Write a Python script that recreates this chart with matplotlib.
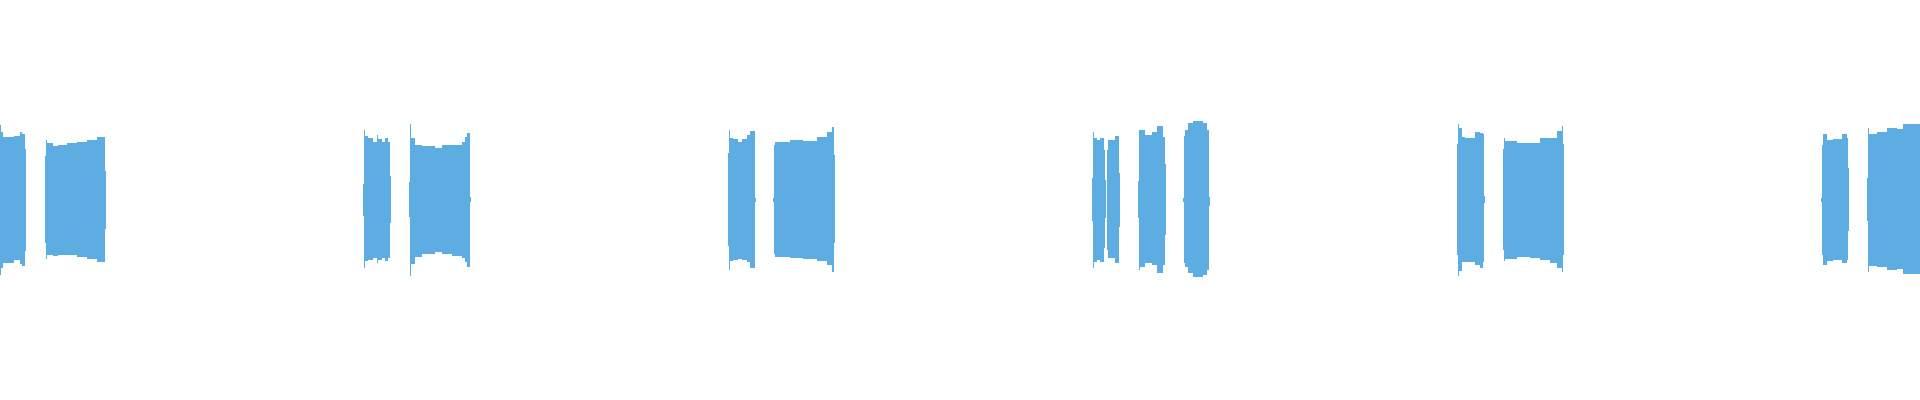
import numpy as np
import matplotlib
matplotlib.use("Agg")
import matplotlib.pyplot as plt

# waveform peaks per burst: column edges, positive peak, negative peak (as magnitude)
a_x = [0, 1, 3, 9, 14, 20, 22, 25, 26]
a_top = [.375, .34, .315, .315, .32, .34, .33, .255]
a_bot = [.375, .34, .315, .315, .30, .32, .33, .255]

b_x = [45, 46, 47, 53, 58, 67, 77, 87, 97, 105, 106]
b_top = [.22, .30, .285, .27, .275, .285, .29, .30, .315, .145]
b_bot = [.215, .295, .275, .28, .275, .275, .285, .295, .31, .145]

c_x = [363, 364, 365, 368, 373, 377, 378, 382, 385, 388, 390, 391]
c_top = [.08, .35, .32, .31, .29, .325, .305, .29, .31, .29, .12]
c_bot = [.08, .34, .305, .30, .29, .315, .30, .29, .305, .29, .115]

d_x = [409, 410, 411, 415, 422, 435, 442, 452, 462, 465, 467, 470, 471]
d_top = [.09, .38, .31, .275, .27, .26, .275, .275, .29, .315, .335, .015]
d_bot = [.085, .38, .32, .285, .27, .26, .27, .28, .29, .31, .335, .01]

e_x = [728, 729, 730, 733, 738, 742, 747, 750, 755, 756]
e_top = [.235, .35, .31, .305, .29, .305, .325, .345, .01]
e_bot = [.23, .35, .305, .30, .295, .30, .31, .34, .01]

f_x = [773, 774, 775, 780, 790, 803, 817, 827, 832, 834, 835]
f_top = [.01, .275, .29, .29, .30, .295, .315, .34, .365, .225]
f_bot = [.01, .27, .285, .285, .29, .295, .305, .325, .36, .215]

g1_x = [1092, 1093, 1094, 1097, 1100, 1104, 1105, 1106]
g1_top = [.11, .34, .31, .30, .31, .25, .10]
g1_bot = [.105, .34, .31, .30, .31, .24, .09]

g2_x = [1107, 1108, 1115, 1119, 1120]
g2_top = [.25, .30, .32, .135]
g2_bot = [.25, .29, .315, .135]

h_x = [1138, 1139, 1140, 1145, 1152, 1157, 1163, 1165, 1166]
h_top = [.095, .35, .35, .325, .34, .37, .315, .18]
h_bot = [.09, .35, .335, .315, .325, .365, .325, .175]

i_x = [1183, 1184, 1185, 1188, 1193, 1203, 1207, 1209, 1210]
i_top = [.01, .32, .35, .385, .395, .385, .35, .015]
i_bot = [.01, .315, .335, .365, .385, .375, .35, .03]

j_x = [1457, 1458, 1459, 1462, 1465, 1475, 1480, 1483, 1484, 1485]
j_top = [.28, .38, .36, .315, .31, .34, .335, .33, .02]
j_bot = [.275, .38, .355, .31, .31, .325, .34, .31, .015]

k_x = [1503, 1504, 1505, 1517, 1530, 1540, 1550, 1557, 1562, 1563, 1564]
k_top = [.255, .31, .295, .285, .285, .31, .31, .345, .37, .28]
k_bot = [.25, .305, .295, .285, .29, .30, .315, .34, .36, .275]

l_x = [1821, 1822, 1823, 1827, 1833, 1842, 1847, 1848, 1849]
l_top = [.01, .275, .33, .30, .305, .33, .31, .16]
l_bot = [.01, .275, .325, .305, .30, .315, .30, .155]

m_x = [1867, 1868, 1869, 1877, 1887, 1897, 1903, 1920]
m_top = [.11, .36, .33, .34, .36, .355, .38]
m_bot = [.105, .36, .33, .335, .35, .345, .37]

bursts = [
    (a_x, a_top, a_bot), (b_x, b_top, b_bot), (c_x, c_top, c_bot),
    (d_x, d_top, d_bot), (e_x, e_top, e_bot), (f_x, f_top, f_bot),
    (g1_x, g1_top, g1_bot), (g2_x, g2_top, g2_bot), (h_x, h_top, h_bot),
    (i_x, i_top, i_bot), (j_x, j_top, j_bot), (k_x, k_top, k_bot),
    (l_x, l_top, l_bot), (m_x, m_top, m_bot),
]

wave_color = "#5dade2"

fig = plt.figure(figsize=(19.2, 4), dpi=100)
ax = fig.add_axes([0, 0, 1, 1])

for xs, top, bot in bursts:
    xs = np.array(xs)
    top = np.append(top, top[-1])
    bot = np.append(bot, bot[-1])
    ax.fill_between(xs, top, -bot, step="post", color=wave_color, linewidth=0)

ax.set_xlim(0, 1920)
ax.set_ylim(-1, 1)
ax.axis("off")

fig.savefig("out.png", dpi=100, facecolor="white")
